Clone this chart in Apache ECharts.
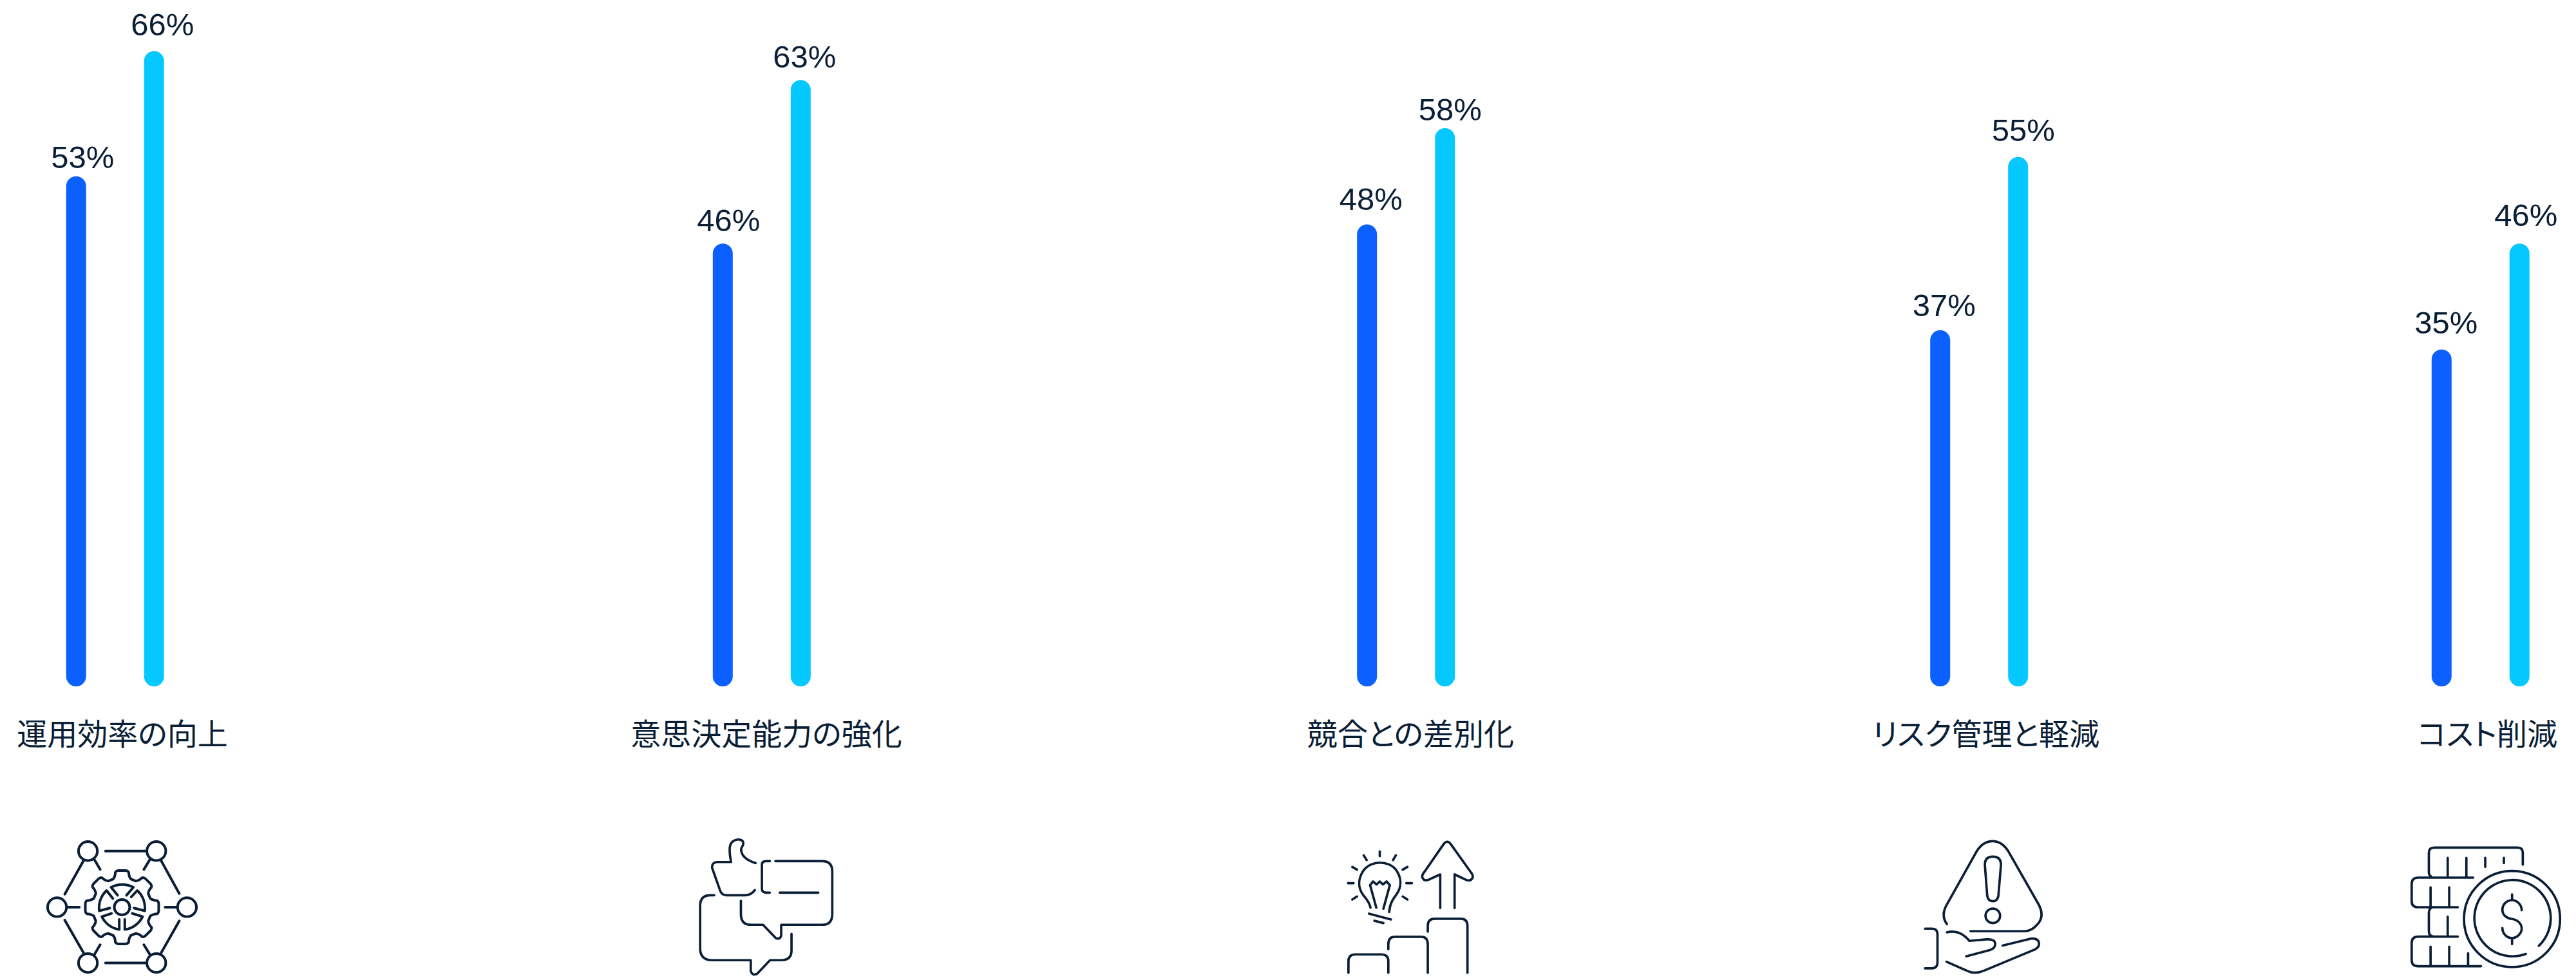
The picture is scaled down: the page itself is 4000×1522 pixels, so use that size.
<!DOCTYPE html>
<html lang="ja">
<head>
<meta charset="utf-8">
<title>活用効果</title>
<style>
  html, body { margin: 0; padding: 0; background: #fff; }
  #chart { width: 4000px; height: 1522px; }
  /* Proportional kana spacing for the Japanese captions */
  #chart svg text { font-feature-settings: "palt"; }
</style>
<script src="https://cdn.jsdelivr.net/npm/echarts@6/dist/echarts.min.js"></script>
</head>
<body>
<div id="chart"></div>
<script>
// Chart values
const categories = ['運用効率の向上', '意思決定能力の強化', '競合との差別化', 'リスク管理と軽減', 'コスト削減'];
const primaryValues = [53, 46, 48, 37, 35];
const secondaryValues = [66, 63, 58, 55, 46];

// Layout of the five unevenly spaced groups
const groupCentres = [178.7, 1182.8, 2183.2, 3073.2, 3851.8];
const labelShift = [11.3, 7.2, 7.1, 10.5, 10.7];
const primaryLabelNudge = [[10, -5], [9, -12], [6, -15], [6, -14], [7, -17]];
const secondaryLabelNudge = [[13, -17], [6, -12], [8, -4], [8, -17], [10, -20]];

const INK = '#0a1e36';
const BLUE = '#0b60ff';
const CYAN = '#04c8ff';
const LABEL_FONT = '"Liberation Sans", Arial, sans-serif';
const AXIS_FONT = '"Noto Sans CJK JP", sans-serif';

// Pixel scale: the baseline sits at y=1066 and one percent spans 14.95px
const AXIS_MAX = 70;
const GRID_HEIGHT = AXIS_MAX * 14.95;
const GRID_TOP = 1066 - GRID_HEIGHT;
const GRID_WIDTH = 280;

const ring = (cx, cy, r) =>
  `M${cx - r} ${cy}A${r} ${r} 0 1 1 ${cx + r} ${cy}A${r} ${r} 0 1 1 ${cx - r} ${cy}Z`;
const seg = (x1, y1, x2, y2) => `M${x1} ${y1}L${x2} ${y2}`;

// Cog outline with rounded teeth
function cog(cx, cy, n, rTip, rRoot) {
  let d = '';
  const pt = (r, a) => `${(cx + r * Math.sin(a)).toFixed(1)} ${(cy - r * Math.cos(a)).toFixed(1)}`;
  for (let i = 0; i < n; i++) {
    const a = i * 2 * Math.PI / n;
    d += (i ? 'L' : 'M') + pt(rRoot, a - 0.3);
    d += 'Q' + pt(rRoot + 6, a - 0.24) + ' ' + pt(rTip - 14, a - 0.2);
    d += 'Q' + pt(rTip, a - 0.2) + ' ' + pt(rTip, a - 0.1);
    d += 'L' + pt(rTip, a + 0.1);
    d += 'Q' + pt(rTip, a + 0.2) + ' ' + pt(rTip - 14, a + 0.2);
    d += 'Q' + pt(rRoot + 6, a + 0.24) + ' ' + pt(rRoot, a + 0.3);
  }
  return d + 'Z';
}

// Line icons, drawn on a 3× working grid
const networkIcon = [
  ring(410, 816, 44), ring(729, 816, 44), ring(266, 1078, 44),
  ring(872, 1078, 44), ring(410, 1338, 44), ring(729, 1338, 44),
  seg(492, 816, 685, 816), seg(492, 1338, 685, 1338),
  seg(389, 862, 302, 1017), seg(441, 857, 467, 902),
  seg(698, 857, 671, 902), seg(752, 862, 836, 1014),
  seg(314, 1078, 370, 1078), seg(770, 1078, 826, 1078),
  seg(302, 1138, 389, 1290), seg(467, 1253, 441, 1297),
  seg(671, 1253, 698, 1297), seg(836, 1142, 752, 1290),
  cog(569, 1078, 8, 172, 138),
  ring(569, 1078, 36),
  'M548 1022L518 985A120 120 0 0 1 622 985L590 1022',
  'M612 1030L640 1000A110 110 0 0 1 675 1095L625 1082',
  'M617 1107L665 1122A110 110 0 0 1 582 1182L582 1135',
  'M520 1107L475 1122A110 110 0 0 0 556 1182L556 1135',
  'M526 1037L497 1000A110 110 0 0 0 463 1095L512 1082'
];

const speechIcon = [
  'M670 872C630 860 605 840 603 810C603 795 618 790 612 772C600 755 560 760 552 790C545 815 552 840 556 867L490 867Q465 870 468 895L505 1000Q512 1022 535 1022L620 1022Q650 1022 667 998',
  'M737 863L720 863Q700 863 700 880L700 992Q700 1010 720 1010L737 1010',
  'M763 863L980 863Q1028 863 1028 910L1028 1110Q1028 1160 980 1160L790 1160L790 1210Q785 1230 765 1222L705 1160L650 1160Q602 1160 602 1110L602 1048',
  seg(783, 1010, 963, 1010),
  'M478 1022L460 1022Q412 1022 412 1070L412 1270Q412 1325 470 1325L648 1325L648 1375Q655 1400 678 1388L738 1325L790 1325Q838 1325 838 1280L838 1202'
];

const growthIcon = [
  'M535 1080C528 1050 515 1040 500 1020C475 985 478 945 500 910C520 880 555 870 578 870C605 870 640 880 658 910C680 945 680 985 655 1020C640 1040 625 1060 622 1100',
  'M562 1080L533 975L547 958L563 972L578 958L593 972L610 958L625 975L595 1085',
  seg(528, 1108, 630, 1135), seg(553, 1141, 595, 1152),
  seg(578, 818, 578, 840), seg(503, 836, 517, 858), seg(653, 836, 640, 858),
  seg(450, 890, 472, 903), seg(707, 890, 685, 903),
  seg(430, 966, 456, 966), seg(702, 966, 728, 966),
  seg(450, 1042, 472, 1028), seg(707, 1042, 685, 1028),
  'M860 1082L860 925L805 950Q785 958 777 940Q773 930 785 915L875 785Q893 760 910 785L1003 915Q1018 935 1008 945Q1000 958 980 950L927 925L927 1082',
  'M432 1384L432 1330Q432 1298 465 1298L585 1298Q618 1298 618 1330L618 1384',
  'M618 1274L618 1250Q618 1216 650 1216L770 1216Q802 1216 802 1250L802 1384',
  'M802 1192L802 1165Q802 1132 835 1132L955 1132Q987 1132 987 1165L987 1384'
];

const riskIcon = [
  'M520 1157Q490 1115 520 1065L660 815Q690 770 733 770Q775 770 805 815L945 1060Q980 1120 940 1160Q915 1190 880 1190L630 1190',
  'M697 880Q697 842 734 842Q772 842 772 880L760 1025Q755 1050 734 1050Q712 1050 708 1025Z',
  ring(734, 1118, 34),
  'M418 1178L450 1178Q476 1178 476 1205L476 1335Q476 1363 450 1363L418 1363',
  'M520 1195Q580 1180 625 1235L705 1228Q745 1225 745 1250Q745 1270 720 1278L610 1307',
  'M780 1257L915 1224Q948 1222 950 1248Q950 1265 930 1275L690 1375Q650 1392 615 1375L518 1332'
];

const coinsIcon = [
  'M525 934Q515 928 515 915L515 825Q515 800 540 800L930 800Q953 800 953 825L953 880',
  seg(535, 940, 722, 940),
  seg(603, 848, 603, 935), seg(690, 848, 690, 935), seg(778, 848, 778, 890), seg(865, 848, 865, 872),
  'M650 1078L465 1078Q435 1078 435 1050L435 970Q435 940 465 940L535 940',
  seg(523, 985, 523, 1075), seg(610, 985, 610, 1075),
  'M530 1078Q515 1085 515 1105L515 1190Q515 1215 540 1215L650 1215',
  seg(603, 1122, 603, 1212),
  'M530 1215L465 1215Q435 1215 435 1245L435 1325Q435 1353 465 1353L758 1353',
  seg(523, 1262, 523, 1350), seg(610, 1262, 610, 1350), seg(698, 1293, 698, 1350),
  ring(903, 1133, 224),
  'M967 1296A178 178 0 1 1 1028 1258',
  'M948 1092C948 1065 925 1045 903 1045C878 1045 858 1065 858 1090C858 1115 878 1130 903 1133C928 1136 948 1155 948 1178C948 1200 925 1222 903 1222C878 1222 858 1200 858 1175',
  seg(903, 1018, 903, 1045), seg(903, 1222, 903, 1250)
];

const icons = [
  { name: 'iconNetwork', paths: networkIcon, x: 0, width: 12 },
  { name: 'iconSpeech', paths: speechIcon, x: 950, width: 11 },
  { name: 'iconGrowth', paths: growthIcon, x: 1950, width: 11 },
  { name: 'iconRisk', paths: riskIcon, x: 2850, width: 11 },
  { name: 'iconCoins', paths: coinsIcon, x: 3600, width: 11 }
];
const ICON_Y = 1050;

// The graphic component only knows registered shapes, so each icon becomes one
icons.forEach(icon => {
  echarts.graphic.registerShape(icon.name, echarts.graphic.extendPath(icon.paths.join('')));
});

const idx = categories.map((_, i) => i);

const barItem = (value, nudge) => ({
  value,
  label: { offset: [nudge[0], nudge[1]] }
});

const barSeries = (name, values, nudges, colour, i) => ({
  type: 'bar',
  name,
  xAxisIndex: i,
  yAxisIndex: i,
  barWidth: 31,
  barGap: (90 / 31 * 100) + '%',
  itemStyle: { color: colour, borderRadius: 15.5 },
  label: {
    show: true,
    position: 'top',
    distance: 0,
    formatter: '{c}%',
    color: INK,
    fontFamily: LABEL_FONT,
    fontSize: 49
  },
  data: [barItem(values[i], nudges[i])]
});

const option = {
  animation: false,
  backgroundColor: '#fff',
  grid: idx.map(i => ({
    left: groupCentres[i] - GRID_WIDTH / 2,
    width: GRID_WIDTH,
    top: GRID_TOP,
    height: GRID_HEIGHT
  })),
  xAxis: idx.map(i => ({
    type: 'category',
    gridIndex: i,
    data: [categories[i]],
    axisLine: { show: false },
    axisTick: { show: false },
    axisLabel: {
      interval: 0,
      margin: 47,
      color: INK,
      fontFamily: AXIS_FONT,
      fontSize: 47,
      padding: [0, 0, 0, 2 * labelShift[i]]
    }
  })),
  yAxis: idx.map(i => ({
    type: 'value',
    gridIndex: i,
    show: false,
    min: 0,
    max: AXIS_MAX
  })),
  series: idx.flatMap(i => [
    barSeries('導入企業', primaryValues, primaryLabelNudge, BLUE, i),
    barSeries('先進企業', secondaryValues, secondaryLabelNudge, CYAN, i)
  ]),
  graphic: icons.map(icon => ({
    type: icon.name,
    x: icon.x,
    y: ICON_Y,
    scaleX: 1 / 3,
    scaleY: 1 / 3,
    silent: true,
    style: {
      fill: null,
      stroke: INK,
      lineWidth: icon.width,
      lineCap: 'round',
      lineJoin: 'round'
    }
  }))
};

const chart = echarts.init(document.getElementById('chart'), null, { renderer: 'svg' });
chart.setOption(option);
</script>
</body>
</html>
